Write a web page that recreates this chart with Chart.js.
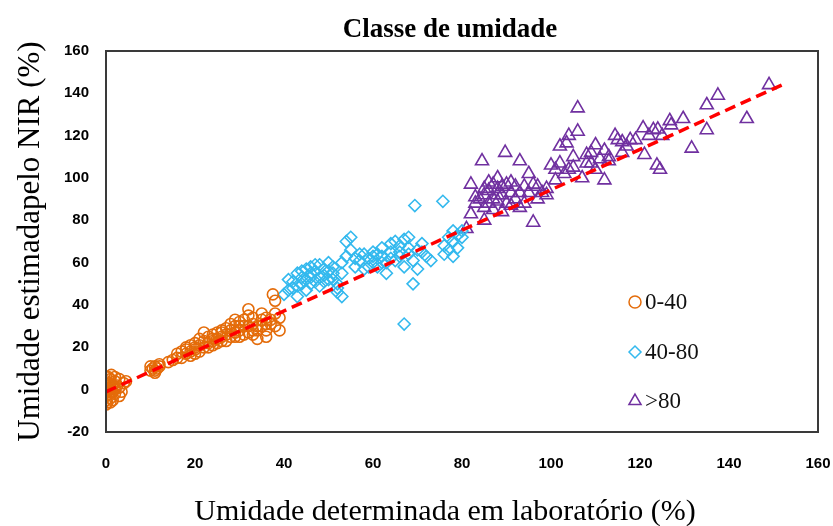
<!DOCTYPE html>
<html>
<head>
<meta charset="utf-8">
<script src="https://cdn.jsdelivr.net/npm/chart.js"></script>
<style>
  html, body { margin: 0; padding: 0; background: #fff; }
</style>
</head>
<body>
<canvas id="myChart" width="833" height="526"></canvas>
<script>
// umidade: [laboratorio, NIR]
const classe0a40 = [
  [0,-5],[0,-3],[0,0],[0,2],[0,4],[0.5,-2],[1,1],[1,3],[1,5],[1.5,-1],[2,0],[2,4],[2.5,2],[3,-3],[3,5],
  [4,3],[4.5,4],[1,-4],[0.5,6],[2,-2],[0.3,-6],[1.2,7],
  [0,1],[0.5,3],[1.5,2],[0,-1],[2,1],[1,-1],[0.5,0],[3,1],[2,6],[0,6],[1,-6],[3.5,-1],[1.5,-5],[0,-7],
  [10,9],[10.5,10],[11,11],[11,9],[11.5,10],[12,11],[12,12],[10,11],[11,8],
  [15,14],[16,15],[16,17],[17,18],[18,17],[18,20],[19,18],[19,21],[20,19],[20,22],[21,21],[21,24],
  [22,20],[22,23],[23,25],[23,22],[24,26],[24,23],[25,24],[25,27],[26,25],[26,28],[27,26],[27,29],
  [28,25],[28,31],[29,27],[29,30],[30,28],[30,32],[31,26],[31,33],[32,30],[32,27],[33,31],[32,38],
  [34,30],[34,28],[35,33],[35,36],[36,34],[37,31],[37,33],[37.5,45],[38,42],[39,28],[38,36],[36,25],
  [30,25],[26,23],[34,24],[32,35],[22,27],[20,17],[24,21],[28,28],
  [14,13],[17,15],[18,19],[19,16],[20,20],[21,18],[23,20],[24,24],[25,22],[26,27],[27,23],[29,25],
  [29,33],[30,30],[31,30],[33,28],[33,34],[35,30],[36,31],[36,28],[38,30],[39,34],[33,26]
];
const classe40a80 = [
  [40,45],[41,52],[42,48],[43,44],[43,55],[44,50],[45,57],[45,47],[46,53],[46,58],[47,51],[47,56],
  [48,49],[48,59],[49,54],[49,57],[50,52],[50,60],[51,55],[51,58],[52,50],[52,46],[53,44],[53,60],
  [54,63],[54,70],[55,72],[55,66],[56,58],[57,61],[58,64],[58,57],[59,62],[60,60],[60,65],[61,58],
  [62,63],[62,67],[63,60],[63,55],[64,65],[64,69],[65,61],[65,70],[66,63],[66,68],[67,71],[67,31],
  [67,58],[68,64],[68,72],[69,50],[69.4,87],[69,61],[70,57],[70,66],[71,69],[72,63],[73,61],[75.7,89],
  [77,66],[77,72],[78,70],[78,63],[79,73],[79,67],[80,75],[76,68],[52,48],[44,53],[56,62],[61,64],
  [41,47],[42,51],[43,49],[44,56],[45,52],[46,50],[46,55],[47,59],[48,53],[49,51],[50,56],[51,52],
  [53,55],[57,64],[59,58],[60,63],[62,60],[64,62],[66,65],[68,67],[71,65],[76,64],[78,75],[80,72]
];
const classeAcima80 = [
  [81,76],[82,83],[82,97],[83,88],[84.5,108],[84,90],[85,86],[85,80],[86,94],[86,88],[87,85],[87,97],
  [88,92],[88,89],[89,96],[89,84],[89.7,112],[90,97],[91,93],[91,98],[92,90],[92,96],[93,108],[93,86],
  [94,88],[95,102],[95,93],[96,79],[97,90],[98,93],[99,95],[100,106],[101,99],[102,107],[102,115],
  [103.5,116.5],[104,104],[104,120],[105,110],[106,133],[106,122],[107,100],[108,107],[109,112],
  [110,115.6],[110,104],[111,109],[112,99],[113,110],[114.4,120],[115,118],[116,112],[117,115],
  [117.8,118],[120.7,123.6],[121,111],[123,122.7],[123.8,106],[124.5,104],[125,120],[126.7,127],
  [127,125],[129.7,128],[131.6,114],[135,122.7],[135,134.5],[137.5,139],[144,128],[149,144],
  [109,107],[112,113],[96,97],[85,95],[88,100],
  [83,91],[85,92],[86,98],[87,90],[88,95],[89,92],[90,88],[91,87],
  [93,93],[94,96],[97,96],[99,92],[101,104],[103,102],[105,105],
  [108,111],[113,108],[116,117],[119,118],[122,120],[124,123]
];
const tendencia = [[0,-1],[153,145]];

const rotulos = ['0-40', '40-80', '>80'];
const cores = ['#E46C0A', '#33B9EE', '#7030A0'];

const toPts = arr => arr.map(p => ({ x: p[0], y: p[1] }));

// title, frame, x title and legend inside plot
const extras = {
  id: 'extras',
  afterDatasetsDraw(chart) {
    const ctx = chart.ctx;
    const a = chart.chartArea;
    ctx.save();
    ctx.strokeStyle = '#3a3a3a';
    ctx.lineWidth = 2;
    ctx.strokeRect(a.left, a.top, a.right - a.left, a.bottom - a.top);

    ctx.fillStyle = '#000';
    ctx.font = 'bold 27px "Liberation Serif"';
    ctx.textAlign = 'center';
    ctx.textBaseline = 'middle';
    ctx.fillText('Classe de umidade', 450, 30);

    ctx.font = '30px "Liberation Serif"';
    ctx.fillText('Umidade determinada em laboratório (%)', 445, 512);

    const rows = [302, 352, 401];
    const styles = ['circle', 'rectRot', 'triangle'];
    ctx.font = '23px "Liberation Serif"';
    ctx.textAlign = 'left';
    for (let i = 0; i < 3; i++) {
      ctx.strokeStyle = cores[i];
      ctx.fillStyle = 'rgba(0,0,0,0)';
      ctx.lineWidth = 1.5;
      Chart.helpers.drawPoint(ctx, { pointStyle: styles[i], radius: i == 2 ? 7 : 6, rotation: 0, borderWidth: 1.5 }, 635, rows[i]);
      ctx.fillStyle = '#111';
      ctx.fillText(rotulos[i], 645, rows[i] + 1);
    }
    ctx.restore();
  }
};

const ctx = document.getElementById('myChart');

new Chart(ctx, {
  type: 'scatter',
  data: {
    datasets: [
      {
        label: 'tendencia',
        data: toPts(tendencia),
        showLine: true,
        borderColor: '#FF0000',
        borderWidth: 3.5,
        borderDash: [11, 6],
        pointRadius: 0,
        order: 0
      },
      {
        label: rotulos[0],
        data: toPts(classe0a40),
        pointStyle: 'circle',
        pointRadius: 5.5,
        borderColor: cores[0],
        backgroundColor: 'rgba(0,0,0,0)',
        borderWidth: 1.6,
        order: 1
      },
      {
        label: rotulos[1],
        data: toPts(classe40a80),
        pointStyle: 'rectRot',
        pointRadius: 6,
        borderColor: cores[1],
        backgroundColor: 'rgba(0,0,0,0)',
        borderWidth: 1.6,
        order: 1
      },
      {
        label: rotulos[2],
        data: toPts(classeAcima80),
        pointStyle: 'triangle',
        pointRadius: 7.5,
        borderColor: cores[2],
        backgroundColor: 'rgba(0,0,0,0)',
        borderWidth: 1.6,
        order: 1
      }
    ]
  },
  options: {
    responsive: false,
    animation: false,
    devicePixelRatio: 1,
    layout: { padding: { left: 0, right: 15, top: 51, bottom: 0 } },
    plugins: {
      legend: { display: false },
      tooltip: { enabled: false }
    },
    scales: {
      x: {
        type: 'linear',
        min: 0,
        max: 160,
        afterFit: s => { s.height = 94; s.paddingLeft = 0; s.paddingRight = 0; },
        grid: { display: false, drawTicks: false },
        border: { display: false },
        ticks: {
          stepSize: 20,
          padding: 23,
          color: '#000',
          font: { family: 'Liberation Sans', size: 15, weight: 'bold' }
        }
      },
      y: {
        min: -20,
        max: 160,
        afterFit: s => { s.width = 106; s.paddingTop = 0; s.paddingBottom = 0; },
        grid: { display: false, drawTicks: false },
        border: { display: false },
        ticks: {
          stepSize: 20,
          padding: 17,
          color: '#000',
          font: { family: 'Liberation Sans', size: 15, weight: 'bold' }
        },
        title: {
          display: true,
          text: 'Umidade estimadapelo NIR (%)',
          color: '#000',
          font: { family: 'Liberation Serif', size: 31, lineHeight: 1 },
          padding: { top: 15, bottom: 0 }
        }
      }
    }
  },
  plugins: [extras]
});
</script>
</body>
</html>
